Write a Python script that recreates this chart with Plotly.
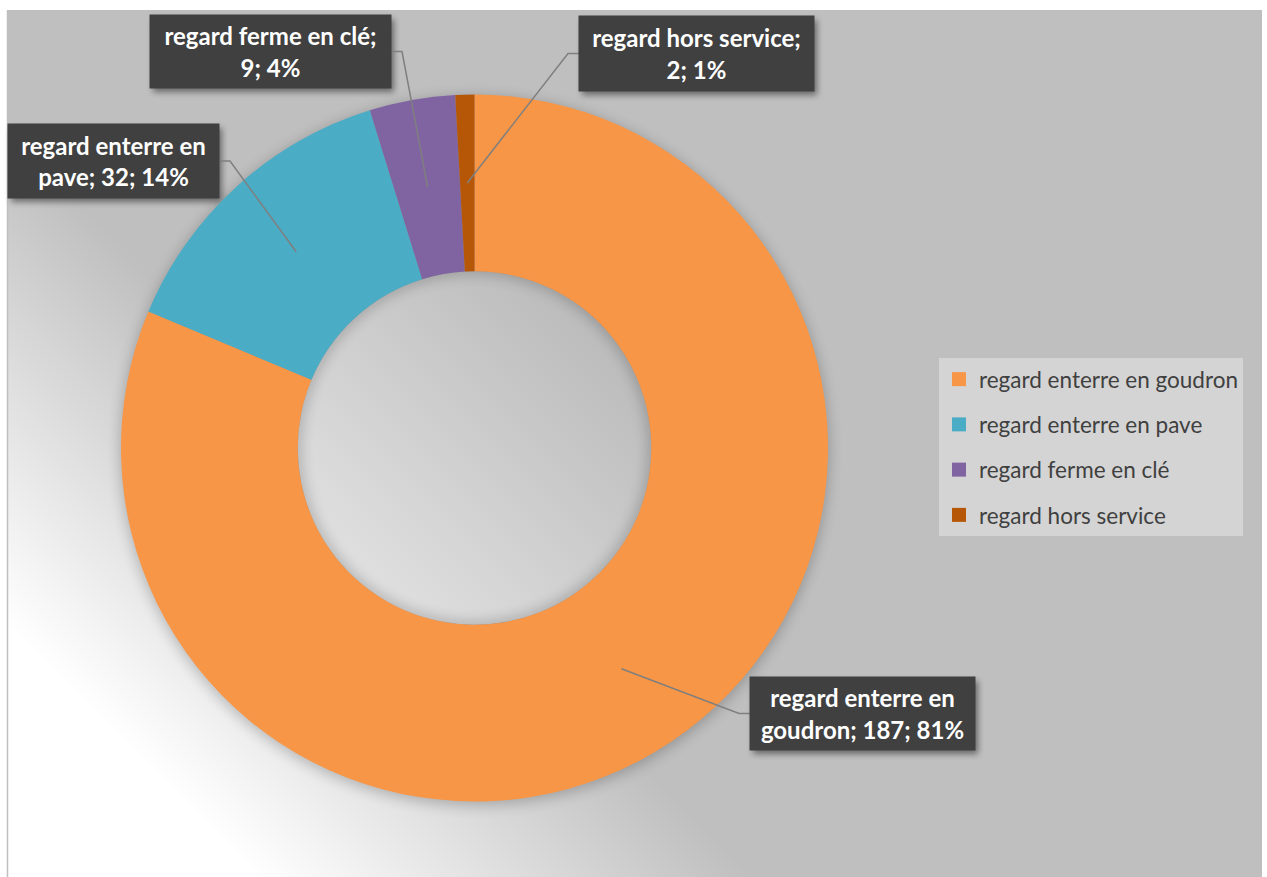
import base64
import math
import plotly.graph_objects as go

# ---------------- data ----------------
labels = ["regard enterre en goudron", "regard enterre en pave",
          "regard ferme en clé", "regard hors service"]
values = [187, 32, 9, 2]
colors = ["#F79646", "#4BACC6", "#8064A2", "#B65708"]

# ---------------- layout constants (pixels) ----------------
W, H = 1267, 877
CX, CY, R_OUT = 474.5, 448.0, 353.5
HOLE = 0.5
R_IN = R_OUT * HOLE

# label boxes: centre x, centre y, width, height, side the leader attaches to
label_boxes = [
    (862.5, 713.5, 225, 73, "left"),
    (113.5, 161.0, 211, 74, "right"),
    (270.5, 51.5, 241, 73, "right"),
    (696.5, 53.5, 235, 75, "left"),
]
ELBOW = 11


def px(x):
    return x / W


def py(y):
    return 1 - y / H


def wrap(text, width=20):
    lines, cur = [], ""
    for w in text.split(" "):
        cand = (cur + " " + w).strip()
        if len(cand) > width and cur:
            lines.append(cur)
            cur = w
        else:
            cur = cand
    lines.append(cur)
    return "<br>".join(lines)


total = sum(values)

# ---------------- background SVG ----------------
shadow_rects = "".join(
    f'<rect x="{cx - w / 2 + 3}" y="{cy - h / 2 + 4}" width="{w}" height="{h}" fill="#000" opacity="0.45" filter="url(#bs)"/>'
    for cx, cy, w, h, _ in label_boxes
)
svg = f'''<svg xmlns="http://www.w3.org/2000/svg" width="{W}" height="{H}" viewBox="0 0 {W} {H}">
<defs>
<linearGradient id="bg" gradientUnits="userSpaceOnUse" x1="100" y1="720" x2="347.5" y2="472.5">
<stop offset="0" stop-color="#ffffff"/><stop offset="1" stop-color="#bfbfbf"/>
</linearGradient>
<linearGradient id="hg" gradientUnits="userSpaceOnUse" x1="{CX - 140}" y1="{CY + 140}" x2="{CX + 130}" y2="{CY - 130}">
<stop offset="0" stop-color="#e2e2e2"/><stop offset="1" stop-color="#bababa"/>
</linearGradient>
<filter id="sh" x="-30%" y="-30%" width="160%" height="160%"><feGaussianBlur stdDeviation="7"/></filter>
<filter id="bs" x="-30%" y="-30%" width="160%" height="160%"><feGaussianBlur stdDeviation="3"/></filter>
<clipPath id="hc"><circle cx="{CX}" cy="{CY}" r="{R_IN}"/></clipPath>
</defs>
<rect width="{W}" height="{H}" fill="#ffffff"/>
<rect x="8" y="10" width="{W - 5 - 8}" height="{H - 10}" fill="url(#bg)"/>
<line x1="7.5" y1="10" x2="7.5" y2="{H}" stroke="#bfbfbf" stroke-width="1.5"/>
<circle cx="{CX}" cy="{CY + 3}" r="{R_OUT + 1}" fill="#000" opacity="0.22" filter="url(#sh)"/>
<circle cx="{CX}" cy="{CY}" r="{R_IN}" fill="url(#hg)"/>
<g clip-path="url(#hc)"><circle cx="{CX}" cy="{CY}" r="{R_IN + 3}" fill="none" stroke="#000" stroke-width="10" opacity="0.25" filter="url(#sh)"/></g>
{shadow_rects}
</svg>'''
bg_uri = "data:image/svg+xml;base64," + base64.b64encode(svg.encode("utf-8")).decode()

# ---------------- figure ----------------
fig = go.Figure()
fig.add_trace(go.Pie(
    labels=labels, values=values, hole=HOLE, sort=False, direction="clockwise",
    rotation=0, marker=dict(colors=colors, line=dict(width=0)),
    textinfo="none", hoverinfo="label+value+percent", showlegend=False,
    domain=dict(x=[px(CX - R_OUT), px(CX + R_OUT)], y=[py(CY + R_OUT), py(CY - R_OUT)]),
))

# legend entries (one per slice, grouped so spacing can be controlled)
for lab, col in zip(labels, colors):
    fig.add_trace(go.Scatter(
        x=[None], y=[None], mode="markers", name=lab, legendgroup=lab,
        marker=dict(symbol="square", size=14, color=col, line=dict(width=0)),
        hoverinfo="skip",
    ))

annotations = []
shapes = []
cum = 0
for lab, v, (bx, by, bw, bh, side) in zip(labels, values, label_boxes):
    pct = round(100 * v / total)
    text = wrap(f"{lab}; {v}; {pct}%")
    annotations.append(dict(
        x=px(bx), y=py(by), xref="paper", yref="paper", text=f"<b>{text}</b>",
        showarrow=False, xanchor="center", yanchor="middle",
        width=bw, height=bh, bgcolor="#404040", borderpad=0,
        font=dict(family="Lato", size=24, color="#ffffff"), align="center",
    ))
    mid = (cum + v / 2) / total
    cum += v
    ang = 2 * math.pi * mid
    rm = (R_OUT + R_IN) / 2
    sx, sy = CX + rm * math.sin(ang), CY - rm * math.cos(ang)
    ex = bx - bw / 2 if side == "left" else bx + bw / 2
    elx = ex - ELBOW if side == "left" else ex + ELBOW
    path = f"M{px(sx)},{py(sy)} L{px(elx)},{py(by)} L{px(ex)},{py(by)}"
    shapes.append(dict(type="path", path=path, xref="paper", yref="paper",
                       line=dict(color="#7f7f7f", width=1.5)))

fig.update_layout(
    width=W, height=H, margin=dict(l=0, r=0, t=0, b=0),
    paper_bgcolor="#ffffff", plot_bgcolor="rgba(0,0,0,0)",
    xaxis=dict(visible=False), yaxis=dict(visible=False),
    images=[dict(source=bg_uri, xref="paper", yref="paper", x=0, y=1,
                 sizex=1, sizey=1, xanchor="left", yanchor="top",
                 sizing="stretch", layer="below")],
    annotations=annotations, shapes=shapes,
    showlegend=True,
    legend=dict(x=px(939), y=py(358), xanchor="left", yanchor="top",
                bgcolor="#d4d4d4", borderwidth=0, tracegroupgap=13,
                traceorder="grouped",
                font=dict(family="Lato", size=22.5, color="#404040")),
)

fig.write_html("out.html")
